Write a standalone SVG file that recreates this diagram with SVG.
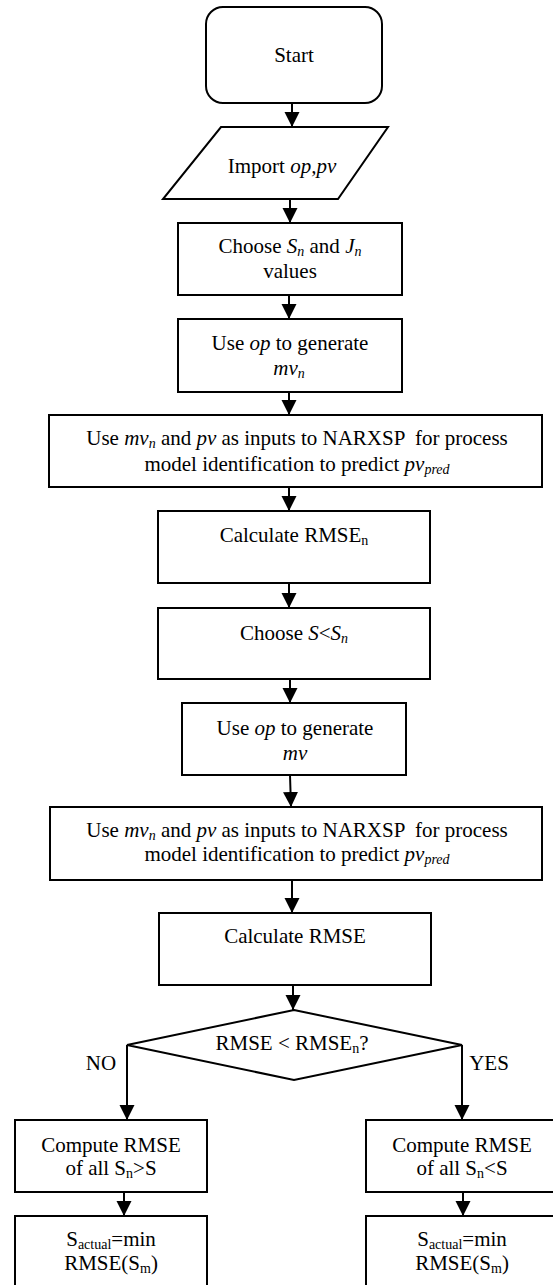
<svg xmlns="http://www.w3.org/2000/svg" width="553" height="1285" viewBox="0 0 553 1285" font-family="'Liberation Serif', Tinos, 'Times New Roman', 'DejaVu Serif', serif">
<defs>
<marker id="ah" markerUnits="userSpaceOnUse" markerWidth="16" markerHeight="16" viewBox="0 0 16 16" refX="15" refY="8" orient="auto">
<path d="M0,0.5 L15,8 L0,15.5 Z" fill="#000"/>
</marker>
</defs>
<style>
.b{fill:#fff;stroke:#000;stroke-width:2}
.c{fill:none;stroke:#000;stroke-width:2;marker-end:url(#ah)}
text{font-family:'Liberation Serif',Tinos,'Times New Roman','DejaVu Serif',serif;font-size:21px;fill:#000;text-anchor:middle}
.i{font-style:italic}
.s{font-size:14px}
</style>
<g id="connectors">
<line class="c" x1="292" y1="103" x2="292" y2="127"/>
<line class="c" x1="290" y1="199" x2="290" y2="223"/>
<line class="c" x1="289" y1="295" x2="289" y2="319"/>
<line class="c" x1="289" y1="392" x2="289" y2="415"/>
<line class="c" x1="289" y1="487" x2="289" y2="511"/>
<line class="c" x1="289" y1="583" x2="289" y2="608"/>
<line class="c" x1="290" y1="679" x2="290" y2="703"/>
<line class="c" x1="290" y1="775" x2="291" y2="807"/>
<line class="c" x1="292" y1="880" x2="292" y2="913"/>
<line class="c" x1="293" y1="985" x2="293" y2="1010"/>
<polyline class="c" points="127,1045 127,1120"/>
<polyline class="c" points="462,1045 462,1120"/>
<line class="c" x1="124" y1="1192" x2="124" y2="1216"/>
<line class="c" x1="463" y1="1192" x2="463" y2="1216"/>
<text x="101" y="1070">NO</text>
<text x="489" y="1070">YES</text>
</g>
<g id="start">
<rect class="b" x="206" y="7" width="176" height="96" rx="17"/>
<text x="294" y="62">Start</text>
</g>
<g id="import">
<polygon class="b" points="221,127 388,127 338,199 163,199"/>
<text x="282" y="173">Import <tspan class="i">op,pv</tspan></text>
</g>
<g id="choose-sn">
<rect class="b" x="178" y="223" width="224" height="72"/>
<text x="290" y="253">Choose <tspan class="i">S</tspan><tspan class="s i" dy="3">n</tspan><tspan dy="-3"> and </tspan><tspan class="i">J</tspan><tspan class="s i" dy="3">n</tspan></text>
<text x="290" y="278">values</text>
</g>
<g id="gen-mvn">
<rect class="b" x="178" y="319" width="224" height="73"/>
<text x="290" y="350">Use <tspan class="i">op</tspan> to generate</text>
<text x="289" y="375"><tspan class="i">mv</tspan><tspan class="s i" dy="3">n</tspan></text>
</g>
<g id="narx-1">
<rect class="b" x="49" y="415" width="493" height="72"/>
<text x="297" y="445" xml:space="preserve">Use <tspan class="i">mv</tspan><tspan class="s i" dy="3">n</tspan><tspan dy="-3"> and </tspan><tspan class="i">pv</tspan> as inputs to NARXSP  for process</text>
<text x="297" y="471">model identification to predict <tspan class="i">pv</tspan><tspan class="s i" dy="3">pred</tspan></text>
</g>
<g id="rmse-n">
<rect class="b" x="158" y="511" width="272" height="72"/>
<text x="294" y="542">Calculate RMSE<tspan class="s" dy="3">n</tspan></text>
</g>
<g id="choose-s">
<rect class="b" x="158" y="608" width="272" height="71"/>
<text x="294" y="640"><tspan>Choose </tspan><tspan class="i">S</tspan>&lt;<tspan class="i">S</tspan><tspan class="s i" dy="3">n</tspan></text>
</g>
<g id="gen-mv">
<rect class="b" x="182" y="703" width="224" height="72"/>
<text x="295" y="735">Use <tspan class="i">op</tspan> to generate</text>
<text x="295" y="760" class="i">mv</text>
</g>
<g id="narx-2">
<rect class="b" x="50" y="807" width="492" height="73"/>
<text x="297" y="837" xml:space="preserve">Use <tspan class="i">mv</tspan><tspan class="s i" dy="3">n</tspan><tspan dy="-3"> and </tspan><tspan class="i">pv</tspan> as inputs to NARXSP  for process</text>
<text x="297" y="861">model identification to predict <tspan class="i">pv</tspan><tspan class="s i" dy="3">pred</tspan></text>
</g>
<g id="rmse">
<rect class="b" x="159" y="913" width="272" height="72"/>
<text x="295" y="943">Calculate RMSE</text>
</g>
<g id="decision">
<polygon class="b" points="294,1010 462,1045 294,1080 127,1045"/>
<text x="292" y="1050">RMSE &lt; RMSE<tspan class="s" dy="3">n</tspan><tspan dy="-3">?</tspan></text>
</g>
<g id="compute-gt">
<rect class="b" x="15" y="1120" width="192" height="72"/>
<text x="111" y="1152">Compute RMSE</text>
<text x="111" y="1175">of all S<tspan class="s" dy="3">n</tspan><tspan dy="-3">&gt;S</tspan></text>
</g>
<g id="actual-left">
<rect class="b" x="15" y="1216" width="192" height="80"/>
<text x="111" y="1246">S<tspan class="s" dy="3">actual</tspan><tspan dy="-3">=min</tspan></text>
<text x="111" y="1270">RMSE(S<tspan class="s" dy="3">m</tspan><tspan dy="-3">)</tspan></text>
</g>
<g id="compute-lt">
<rect class="b" x="366" y="1120" width="192" height="72"/>
<text x="462" y="1152">Compute RMSE</text>
<text x="462" y="1175">of all S<tspan class="s" dy="3">n</tspan><tspan dy="-3">&lt;S</tspan></text>
</g>
<g id="actual-right">
<rect class="b" x="366" y="1216" width="192" height="80"/>
<text x="462" y="1246">S<tspan class="s" dy="3">actual</tspan><tspan dy="-3">=min</tspan></text>
<text x="462" y="1270">RMSE(S<tspan class="s" dy="3">m</tspan><tspan dy="-3">)</tspan></text>
</g>
</svg>
